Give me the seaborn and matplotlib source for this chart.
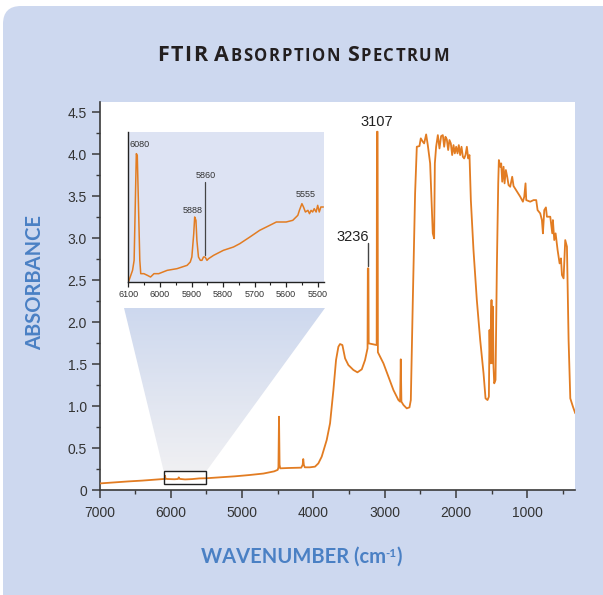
import numpy as np
import pandas as pd
import matplotlib
matplotlib.use("Agg")
import matplotlib.pyplot as plt
import seaborn as sns
from matplotlib.patches import FancyBboxPatch, Rectangle, Polygon
from matplotlib.ticker import MultipleLocator, FuncFormatter
from matplotlib.transforms import IdentityTransform

# ---------------- data ----------------
main_wn = [7000, 6800, 6600, 6400, 6200, 6100, 6085, 6080, 6075, 6050, 5950, 5900, 5888, 5875,
           5800, 5700, 5600, 5500, 5300, 5100, 4900, 4700, 4550, 4500, 4490, 4482, 4474, 4465,
           4350, 4170, 4150, 4142, 4134, 4120, 4050, 3977, 3930, 3883, 3813, 3766, 3719, 3682,
           3649, 3626, 3593, 3555, 3509, 3438, 3382, 3321, 3275, 3240, 3236, 3228, 3224, 3112,
           3108, 3099, 3095, 3017, 2947, 2877, 2807, 2783, 2774, 2765, 2736, 2690, 2652, 2633,
           2605, 2573, 2549, 2512, 2493, 2465, 2446, 2418, 2395, 2362, 2339, 2325, 2306, 2296,
           2278, 2254, 2231, 2208, 2184, 2165, 2147, 2128, 2109, 2091, 2072, 2053, 2034, 2016,
           1997, 1978, 1960, 1941, 1922, 1903, 1885, 1866, 1847, 1828, 1810, 1791, 1754, 1707,
           1660, 1613, 1585, 1557, 1538, 1529, 1520, 1510, 1501, 1492, 1482, 1473, 1463, 1445,
           1426, 1407, 1398, 1379, 1365, 1351, 1332, 1318, 1300, 1281, 1262, 1239, 1211, 1192,
           1098, 1061, 1042, 1024, 1014, 958, 911, 874, 855, 818, 794, 780, 761, 738, 724, 677,
           649, 640, 621, 602, 574, 546, 527, 513, 490, 467, 443, 420, 396, 359, 326]
main_abs = [0.078, 0.090, 0.102, 0.112, 0.124, 0.130, 0.132, 0.170, 0.135, 0.131, 0.128, 0.131, 0.150, 0.132,
            0.126, 0.130, 0.138, 0.140, 0.152, 0.163, 0.178, 0.196, 0.222, 0.240, 0.270, 0.873, 0.300, 0.258,
            0.262, 0.266, 0.300, 0.369, 0.300, 0.270, 0.270, 0.278, 0.317, 0.397, 0.595, 0.794, 1.190, 1.548,
            1.706, 1.738, 1.726, 1.567, 1.488, 1.429, 1.401, 1.437, 1.548, 1.687, 2.639, 2.639, 1.746, 1.726,
            4.266, 4.266, 1.640, 1.508, 1.349, 1.190, 1.071, 1.052, 1.556, 1.052, 1.012, 0.972, 0.984, 1.071,
            2.262, 3.532, 4.087, 4.095, 4.187, 4.147, 4.127, 4.234, 4.107, 3.889, 3.373, 3.056, 2.996, 3.889,
            4.087, 4.226, 4.067, 4.214, 4.226, 4.087, 4.206, 4.175, 4.048, 4.167, 4.127, 3.988, 4.107, 4.008,
            4.087, 4.008, 4.107, 3.988, 4.087, 3.968, 3.948, 3.988, 4.087, 3.948, 3.988, 3.452, 2.857, 2.262,
            1.786, 1.389, 1.091, 1.071, 1.111, 1.905, 1.508, 1.944, 2.262, 1.508, 2.183, 1.468, 1.270, 1.310,
            2.659, 3.651, 3.929, 3.849, 3.889, 3.671, 3.849, 3.651, 3.810, 3.730, 3.631, 3.611, 3.730, 3.619,
            3.492, 3.433, 3.492, 3.651, 3.452, 3.433, 3.452, 3.452, 3.333, 3.294, 3.214, 3.056, 3.333, 3.365,
            3.254, 3.254, 3.056, 3.214, 2.976, 3.056, 2.857, 2.698, 2.758, 2.560, 2.520, 2.976, 2.897, 1.786,
            1.091, 0.992, 0.913]

inset_wn = [6100, 6087, 6082, 6075, 6072, 6064, 6061, 6051, 6040, 6030, 6019, 6004, 5977, 5946,
            5914, 5904, 5899, 5893, 5890, 5886, 5883, 5878, 5872, 5867, 5862, 5857, 5851, 5846,
            5830, 5799, 5767, 5747, 5715, 5684, 5652, 5631, 5600, 5579, 5563, 5558, 5550, 5545,
            5539, 5531, 5526, 5521, 5516, 5511, 5505, 5500, 5495, 5490, 5482]
inset_abs = [0.100, 0.107, 0.113, 0.177, 0.176, 0.113, 0.105, 0.105, 0.104, 0.103, 0.105, 0.105, 0.107, 0.108,
             0.110, 0.112, 0.115, 0.129, 0.139, 0.137, 0.125, 0.115, 0.113, 0.113, 0.115, 0.115, 0.113, 0.114,
             0.116, 0.119, 0.121, 0.123, 0.127, 0.131, 0.134, 0.136, 0.136, 0.137, 0.140, 0.143, 0.147, 0.145,
             0.142, 0.143, 0.141, 0.143, 0.142, 0.144, 0.142, 0.146, 0.142, 0.145, 0.145]

main_peaks = ["3236", "3107"]
inset_peaks = ["6080", "5888", "5860", "5555"]

title_runs = [("FTIR", "big"), (" ", "gap"), ("A", "big"), ("BSORPTION", "small"),
              (" ", "gap"), ("S", "big"), ("PECTRUM", "small")]

# ---------------- style ----------------
ORANGE = "#e27c22"
BLUE_BG = "#cdd8ef"
LABEL_BLUE = "#4a80c4"
AXC = "#3a3a3a"

sns.set_theme(style="ticks")
plt.rcParams["font.family"] = ["Liberation Sans", "DejaVu Sans"]

W, H = 603, 595
fig = plt.figure(figsize=(W / 100, H / 100), dpi=100, facecolor="white")

# rounded light-blue panel
panel = FancyBboxPatch((3, -60), 700, H - 6 + 60, boxstyle="round,pad=0,rounding_size=18",
                       transform=IdentityTransform(), facecolor=BLUE_BG, edgecolor="none", zorder=0)
fig.add_artist(panel)

# ---------------- main axes ----------------
ax = fig.add_axes([99.5 / W, 105 / H, 475.5 / W, 388 / H], zorder=1)
ax.set_facecolor("white")
df_main = pd.DataFrame({"wn": main_wn, "A": main_abs})
sns.lineplot(data=df_main, x="wn", y="A", ax=ax, color=ORANGE, lw=1.3, sort=False, estimator=None, zorder=3)

# gradient trapezoid (zoom cone)
grad = np.linspace(0, 1, 256).reshape(-1, 1)
top_c = np.array([205, 216, 238]) / 255
bot_c = np.array([240, 240, 243]) / 255
img = top_c[None, None, :] * (1 - grad[:, :, None]) + bot_c[None, None, :] * grad[:, :, None]
im = ax.imshow(img, extent=(6656, 3837, 0.226, 2.167), origin="upper", aspect="auto", zorder=1)
cone = Polygon([(6656, 2.167), (3837, 2.167), (5500, 0.226), (6100, 0.226)], closed=True,
               transform=ax.transData, facecolor="none", edgecolor="none")
ax.add_patch(cone)
im.set_clip_path(cone)

ax.add_patch(Rectangle((6100, 0.072), -600, 0.154, fill=False, edgecolor="#222222", lw=1.0, zorder=4))

ax.set_xlim(7000, 330)
ax.set_ylim(0, 4.62)
ax.set_xlabel("")
ax.set_ylabel("")
for s in ["top", "right"]:
    ax.spines[s].set_visible(False)
for s in ["left", "bottom"]:
    ax.spines[s].set_color(AXC)
    ax.spines[s].set_linewidth(1.2)
ax.xaxis.set_major_locator(MultipleLocator(1000))
ax.xaxis.set_minor_locator(MultipleLocator(500))
ax.yaxis.set_major_locator(MultipleLocator(0.5))
ax.yaxis.set_minor_locator(MultipleLocator(0.25))
ax.yaxis.set_major_formatter(FuncFormatter(lambda v, p: "0" if abs(v) < 1e-9 else f"{v:.1f}"))
ax.xaxis.set_major_formatter(FuncFormatter(lambda v, p: f"{int(round(v))}"))
ax.tick_params(which="major", length=5.5, width=1.1, color=AXC, labelsize=10, labelcolor="#333333")
ax.tick_params(which="minor", length=3.2, width=1.0, color=AXC)
ax.tick_params(axis="x", which="major", pad=6)
ax.tick_params(axis="y", which="major", pad=3.5)

# main annotations
ax.text(3445, 3.01, main_peaks[0], fontsize=10.5, color="#222222", ha="center", va="center", zorder=5)
ax.plot([3232, 3232], [2.67, 2.94], color="#444444", lw=1.0, zorder=5)
ax.text(3108, 4.38, main_peaks[1], fontsize=10.5, color="#222222", ha="center", va="center", zorder=5)

# ---------------- inset ----------------
axin = fig.add_axes([127.5 / W, (H - 282) / H, 196.5 / W, 150 / H], zorder=3)
axin.set_facecolor("#dde3f3")
df_in = pd.DataFrame({"wn": inset_wn, "A": inset_abs})
sns.lineplot(data=df_in, x="wn", y="A", ax=axin, color=ORANGE, lw=1.1, sort=False, estimator=None)
axin.set_xlim(6103, 5480)
axin.set_ylim(0.10, 0.19)
axin.set_xlabel("")
axin.set_ylabel("")
axin.set_yticks([])
for s in ["top", "right"]:
    axin.spines[s].set_visible(False)
for s in ["left", "bottom"]:
    axin.spines[s].set_color("#222222")
    axin.spines[s].set_linewidth(1.0)
axin.xaxis.set_major_locator(MultipleLocator(100))
axin.xaxis.set_minor_locator(MultipleLocator(50))
axin.xaxis.set_major_formatter(FuncFormatter(lambda v, p: f"{int(round(v))}"))
axin.tick_params(axis="x", which="major", length=3.5, width=0.9, color="#222222", labelsize=6.5,
                 labelcolor="#333333", pad=2)
axin.tick_params(axis="x", which="minor", length=2, width=0.8, color="#222222")

afs = 6.5
axin.text(6096, 0.1824, inset_peaks[0], fontsize=afs, color="#333333", ha="left", va="center")
axin.text(5897, 0.1432, inset_peaks[1], fontsize=afs, color="#333333", ha="center", va="center")
axin.text(5856, 0.1637, inset_peaks[2], fontsize=afs, color="#333333", ha="center", va="center")
axin.plot([5856, 5856], [0.1161, 0.1603], color="#444444", lw=0.9)
axin.text(5538, 0.1526, inset_peaks[3], fontsize=afs, color="#333333", ha="center", va="center")

# ---------------- titles / labels ----------------
renderer = fig.canvas.get_renderer()


def place_runs(runs, cx, base_y, color, family, weight, tracking=0.0):
    objs = []
    total = 0
    for s, fs, dy in runs:
        if s is None:
            objs.append((None, fs, 0))
            total += fs
            continue
        t = fig.text(0, 0, s, fontsize=fs, color=color, family=family, weight=weight,
                     transform=IdentityTransform(), ha="left", va="baseline")
        w = t.get_window_extent(renderer=renderer).width + tracking
        objs.append((t, w, dy))
        total += w
    total -= tracking
    x = cx - total / 2
    for t, w, dy in objs:
        if t is not None:
            t.set_position((x, base_y + dy))
        x += w


size_map = {"big": 15.5, "small": 12}
runs = []
for s, kind in title_runs:
    if kind == "gap":
        runs.append((None, 5, 0))
    else:
        for ch in s:
            runs.append((ch, size_map[kind], 0))
place_runs(runs, 303, H - 60.7, "#231f20", ["Open Sans", "DejaVu Sans"], "bold", tracking=1.6)

place_runs([("WAVENUMBER (cm", 14.5, 0), ("-1", 8.5, 6), (")", 14.5, 0)], 301.5, H - 562.7,
           LABEL_BLUE, ["Lato", "DejaVu Sans"], "bold")

fig.text(35 / W, 1 - 283 / H, "ABSORBANCE", rotation=90, fontsize=14.5, color=LABEL_BLUE,
         family=["Lato", "DejaVu Sans"], weight="bold", ha="center", va="center")

fig.savefig("out.png", dpi=100, facecolor=fig.get_facecolor())
